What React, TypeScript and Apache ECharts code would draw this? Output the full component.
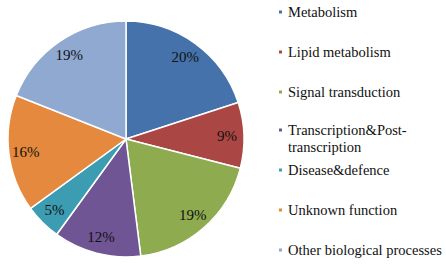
import React, { useEffect, useRef } from "react";
import * as echarts from "echarts";

const categories = [
  "Metabolism",
  "Lipid metabolism",
  "Signal transduction",
  "Transcription&Post-transcription",
  "Disease&defence",
  "Unknown function",
  "Other biological processes",
];
const values = [20, 9, 19, 12, 5, 16, 19];
const colors = ["#4572AA", "#AA4643", "#8EAB4F", "#6F5594", "#3C9CB2", "#E4893D", "#8FA9D1"];

const FONT = "Liberation Serif";

export default function App() {
  const ref = useRef<HTMLDivElement>(null);
  useEffect(() => {
    if (!ref.current) return;
    const chart = echarts.init(ref.current, undefined, { renderer: "svg" });
    const data = categories.map((name, i) => ({
      name,
      value: values[i],
      itemStyle: { color: colors[i] },
    }));
    const legendText = {
      fontFamily: FONT,
      fontSize: 14.5,
      color: "#111",
      lineHeight: 16,
    };
    const legendBase = {
      orient: "vertical" as const,
      left: 277,
      padding: 0,
      itemWidth: 5,
      itemHeight: 5,
      itemGap: 24,
      icon: "rect",
      textStyle: legendText,
      selectedMode: false,
    };
    chart.setOption({
      animation: false,
      legend: [
        { ...legendBase, top: 4, data: categories.slice(0, 3) },
        {
          ...legendBase,
          top: 121.5,
          itemHeight: 22,
          icon: "path://M0,0h5v5h-5z M0,22",
          textStyle: { ...legendText, lineHeight: 17 },
          data: [categories[3]],
          formatter: (n: string) => n.replace("Post-", "Post-\n"),
        },
        { ...legendBase, top: 162, data: categories.slice(4) },
      ],
      series: [
        {
          type: "pie",
          center: [126, 139],
          radius: [0, 118],
          startAngle: 90,
          clockwise: true,
          data,
          label: { show: false },
          labelLine: { show: false },
          itemStyle: { borderColor: "#fff", borderWidth: 1.5 },
          emphasis: { disabled: true },
          silent: true,
        },
        {
          type: "pie",
          center: [126, 139],
          radius: [78, 118],
          startAngle: 90,
          clockwise: true,
          data: categories.map((name, i) => ({ name, value: values[i] })),
          itemStyle: { color: "rgba(0,0,0,0)", borderWidth: 0 },
          label: {
            show: true,
            position: "inside",
            formatter: "{c}%",
            fontFamily: FONT,
            fontSize: 15,
            color: "#111",
          },
          labelLine: { show: false },
          emphasis: { disabled: true },
          silent: true,
        },
      ],
    });
    return () => chart.dispose();
  }, []);
  return (
    <div
      ref={ref}
      style={{ position: "fixed", left: 0, top: 0, width: 446, height: 269, background: "#fff" }}
    />
  );
}
